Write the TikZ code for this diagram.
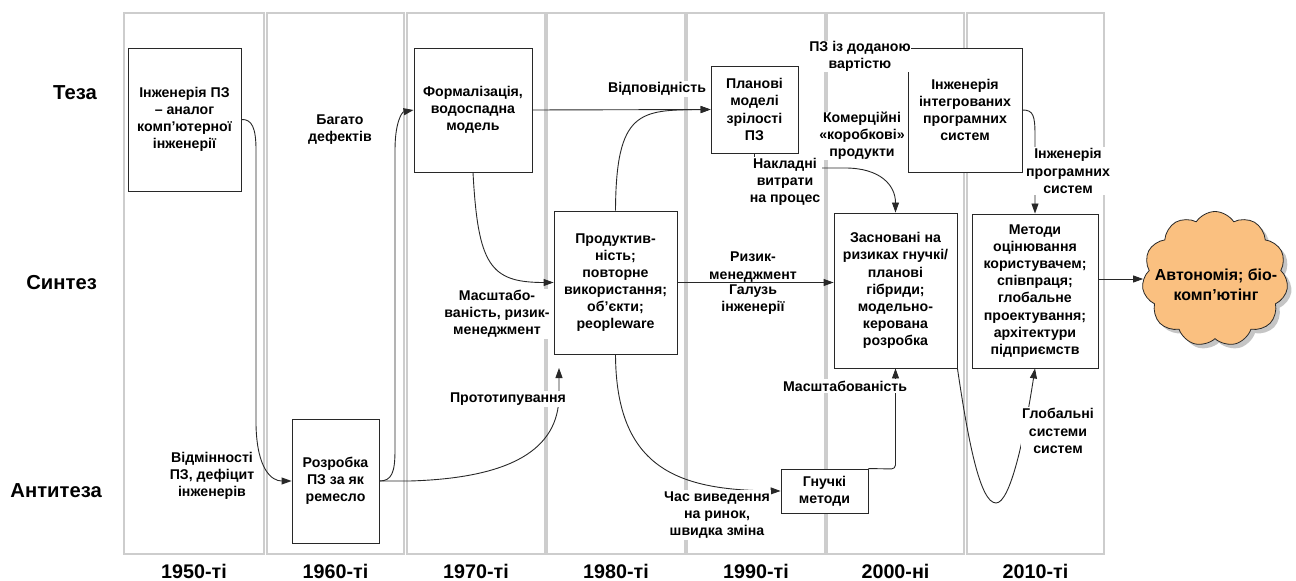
\documentclass[tikz,border=0pt]{standalone}
\usepackage{fontspec}
\setmainfont{Liberation Sans}
\usetikzlibrary{arrows.meta,shapes.symbols,shadows}
\definecolor{cloudfill}{RGB}{250,192,128}
\definecolor{colline}{RGB}{205,205,205}
\definecolor{inkline}{RGB}{40,40,40}
\begin{document}
\begin{tikzpicture}[x=1bp,y=-1bp,
  txt/.style={font=\fontsize{14.2}{17.2}\selectfont\bfseries, align=center, inner sep=0pt},
  box/.style={txt, draw=inkline, line width=0.9bp, fill=white},
  lbl/.style={txt},
  cover/.style={txt, fill=white, inner sep=1.5bp},
  rowlbl/.style={font=\fontsize{20.3}{23}\selectfont\bfseries, inner sep=0pt, anchor=base east},
  declbl/.style={font=\fontsize{19.8}{23}\selectfont\bfseries, inner sep=0pt, anchor=base},
  column/.style={draw=colline, line width=1.2bp},
  arr/.style={draw=inkline, line width=0.9bp, -{Triangle[length=10bp,width=7bp]}},
  cloudshape/.style={cloud, cloud puffs=11, cloud puff arc=115, cloud ignores aspect,
    draw=inkline, line width=0.8bp, fill=cloudfill, inner sep=0pt,
    minimum width=146bp, minimum height=135bp,
    drop shadow={shadow xshift=4bp, shadow yshift=-4bp, fill=black!45}},
  cloudtext/.style={font=\fontsize{16}{20}\selectfont\bfseries, align=center, inner sep=0pt}
]
\useasboundingbox (0,0) rectangle (1296,581);

% decade columns
\draw[column] (124,13) rectangle (264,554);
\draw[column] (267,13) rectangle (404,554);
\draw[column] (407,13) rectangle (545,554);
\draw[column] (547,13) rectangle (685,554);
\draw[column] (687,13) rectangle (825,554);
\draw[column] (827,13) rectangle (964,554);
\draw[column] (967,13) rectangle (1104,554);

% row captions
\node[rowlbl] (rThesis) at (97,100) {Теза};
\node[rowlbl] (rSynth) at (97,290) {Синтез};
\node[rowlbl] (rAnti) at (102,497) {Антитеза};

% decade captions
\node[declbl] (d50) at (194,578.5) {1950-ті};
\node[declbl] (d60) at (335.5,578.5) {1960-ті};
\node[declbl] (d70) at (476,578.5) {1970-ті};
\node[declbl] (d80) at (616,578.5) {1980-ті};
\node[declbl] (d90) at (756,578.5) {1990-ті};
\node[declbl] (d00) at (895.5,578.5) {2000-ні};
\node[declbl] (d10) at (1035.5,578.5) {2010-ті};

% stages
\node[box, minimum width=113bp, minimum height=143bp] (b1) at (184.5,119.5)
  {Інженерія ПЗ\\– аналог\\комп'ютерної\\інженерії};
\node[box, minimum width=87bp, minimum height=124bp] (b2) at (335.5,481)
  {Розробка\\ПЗ за як\\ремесло};
\node[box, minimum width=118bp, minimum height=124bp] (b3) at (473,110)
  {Формалізація,\\водоспадна\\модель};
\node[box, minimum width=123bp, minimum height=143bp] (b4) at (615.5,282.5)
  {Продуктив-\\ність;\\повторне\\використання;\\об'єкти;\\peopleware};
\node[box, minimum width=87bp, minimum height=87bp] (b5) at (754.5,109.5)
  {Планові\\моделі\\зрілості\\ПЗ};
\node[box, minimum width=87bp, minimum height=44bp] (b6) at (824.5,491)
  {Гнучкі\\методи};
\node[box, minimum width=114bp, minimum height=124bp] (b7) at (965,110)
  {Інженерія\\інтегрованих\\програмних\\систем};
\node[box, minimum width=123bp, minimum height=155bp] (b8) at (895.5,290.5)
  {Засновані на\\ризиках гнучкі/\\планові\\гібриди;\\модельно-\\керована\\розробка};
\node[box, minimum width=126bp, minimum height=154bp] (b9) at (1035,291)
  {Методи\\оцінювання\\користувачем;\\співпраця;\\глобальне\\проектування;\\архітектури\\підприємств};

% outlook cloud
\node[cloudshape] (cloud) at (1215,279) {};
\node[cloudtext] (cloudtxt) at (1216,285) {Автономія; біо-\\комп’ютінг};

% transitions
\coordinate (protoTip) at (559,368);
\draw[arr] (b1.east) .. controls (252,119) and (256,128) .. (256,150) -- (256,425)
  .. controls (257,470) and (272,481) .. (b2.west);
\draw[arr] (b2.east) .. controls (392,481) and (395,472) .. (395,450) -- (395,150)
  .. controls (395,122) and (402,112) .. (b3.west);
\draw[arr] (b2.east) -- (410,481) .. controls (510,478) and (559,450) .. (559,395) -- (protoTip);
\draw[arr] (b3.south) .. controls (478,265) and (490,282.5) .. (b4.west);
\draw[arr] (b3.east) -- (b5.west);
\draw[arr] (b4.north) .. controls (616,110) and (640,110) .. (b5.west);
\draw[arr] (b4.east) -- (b4.east -| b8.west);
\draw[arr] (b4.south) .. controls (616,470) and (680,490) .. (b6.west);
\draw[arr] (b5.south) -- (754.5,168) -- (845,168) .. controls (880,168) and (895.5,185) .. (b8.north);
\draw[arr, rounded corners=4bp] (b6.north east) -- (895.5,469) -- (b8.south);
\draw[arr] (b7.east) .. controls (1033,110) and (1035,115) .. (1035,135) -- (b9.north);
\draw[arr] (b8.south east) .. controls (968,440) and (980,503) .. (996,503)
  .. controls (1010,503) and (1024,440) .. (b9.south);
\draw[arr] (b9.east |- cloud.west) -- (cloud.west);

% transition labels
\node[lbl] (lDiff) at (212,476) {Відмінності\\ПЗ, дефіцит\\інженерів};
\node[lbl] (lDef) at (340,130) {Багато\\дефектів};
\node[cover] (lProto) at (508,399) {Прототипування};
\node[cover] (lScaleRisk) at (497,314) {Масштабо-\\ваність, ризик-\\менеджмент};
\node[cover] (lConf) at (657,89) {Відповідність};
\node[lbl] (lRisk) at (753,267) {Ризик-\\менеджмент};
\node[lbl] (lField) at (753,300) {Галузь\\інженерії};
\node[cover] (lTime) at (717,515) {Час виведення\\на ринок,\\швидка зміна};
\node[cover, inner sep=0.5bp] (lValue) at (860,56.5) {ПЗ із доданою\\вартістю};
\node[cover, inner sep=0pt, anchor=north] (lCots) at (862,112) {Комерційні\\«коробкові»\\продукти};
\node[cover] (lOver) at (785,182) {Накладні\\витрати\\на процес};
\node[cover] (lScale) at (845,386) {Масштабованість};
\node[cover] (lSysEng) at (1068,171) {Інженерія\\програмних\\систем};
\node[cover] (lGlob) at (1058,431) {Глобальні\\системи\\систем};
\end{tikzpicture}
\end{document}
